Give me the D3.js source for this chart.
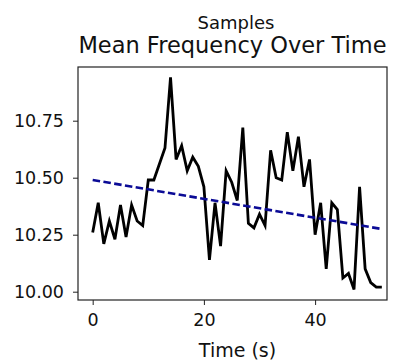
<!DOCTYPE html>
<html>
<head>
<meta charset="utf-8">
<script src="https://cdn.jsdelivr.net/npm/d3@7"></script>
<style>
  body { margin: 0; background: #fff; }
  text { font-family: "DejaVu Sans", sans-serif; fill: #111; }
</style>
</head>
<body>
<div id="app"></div>
<script>
// time in seconds and the mean frequency
const times = d3.range(0, 53);
const meanFreq = [
  10.26, 10.39, 10.21, 10.31, 10.23, 10.38, 10.24, 10.38, 10.31, 10.29,
  10.49, 10.49, 10.56, 10.63, 10.94, 10.58, 10.64, 10.53, 10.59, 10.55,
  10.46, 10.14, 10.39, 10.20, 10.53, 10.48, 10.40, 10.72, 10.30, 10.28,
  10.34, 10.29, 10.62, 10.50, 10.49, 10.70, 10.53, 10.68, 10.46, 10.58,
  10.25, 10.39, 10.10, 10.39, 10.36, 10.06, 10.08, 10.01, 10.46, 10.10,
  10.04, 10.02, 10.02
];
// dashed trend line end points
const trendTimes = [0, 52];
const trendValues = [10.49, 10.275];

const xTicks = [0, 20, 40];
const yTicks = [10.0, 10.25, 10.5, 10.75];

const width = 398;
const height = 361;
const margin = { top: 67, right: 11, bottom: 61, left: 78 };

const svg = d3.select("#app").append("svg").attr("width", width).attr("height", height);

const x = d3.scaleLinear().domain([-2.64, 52.93]).range([margin.left, width - margin.right]);
const y = d3.scaleLinear().domain([9.9636, 10.9855]).range([height - margin.bottom, margin.top]);

// AXES
svg
  .append("g")
  .attr("transform", `translate(0,${height - margin.bottom})`)
  .call(d3.axisBottom(x).tickValues(xTicks).tickFormat(d3.format("d")).tickSize(5).tickPadding(9))
  .call(g => g.select(".domain").remove())
  .call(g => g.selectAll("line").attr("stroke", "#222").attr("stroke-width", 1))
  .call(g => g.selectAll("text").attr("font-size", 17.5).attr("font-family", "DejaVu Sans").attr("fill", "#111"));

svg
  .append("g")
  .attr("transform", `translate(${margin.left},0)`)
  .call(d3.axisLeft(y).tickValues(yTicks).tickFormat(d3.format(".2f")).tickSize(5).tickPadding(9))
  .call(g => g.select(".domain").remove())
  .call(g => g.selectAll("line").attr("stroke", "#222").attr("stroke-width", 1))
  .call(g => g.selectAll("text").attr("font-size", 17.5).attr("font-family", "DejaVu Sans").attr("fill", "#111"));

// DATA LINE
const line = d3.line().x(d => x(d[0])).y(d => y(d[1]));

svg
  .append("path")
  .datum(times.map((t, i) => [t, meanFreq[i]]))
  .attr("d", line)
  .attr("fill", "none")
  .attr("stroke", "#000")
  .attr("stroke-width", 2.8)
  .attr("stroke-linejoin", "miter");

// TREND
svg
  .append("path")
  .datum(trendTimes.map((t, i) => [t, trendValues[i]]))
  .attr("d", line)
  .attr("fill", "none")
  .attr("stroke", "#0b0b96")
  .attr("stroke-width", 2.6)
  .attr("stroke-dasharray", "7.5,3.4");

// FRAME
svg
  .append("rect")
  .attr("x", margin.left)
  .attr("y", margin.top)
  .attr("width", width - margin.left - margin.right)
  .attr("height", height - margin.top - margin.bottom)
  .attr("fill", "none")
  .attr("stroke", "#222")
  .attr("stroke-width", 1.2);

// TITLES
svg.append("text").attr("x", 236).attr("y", 29).attr("text-anchor", "middle").attr("font-size", 18).text("Samples");
svg.append("text").attr("x", 232.5).attr("y", 52.5).attr("text-anchor", "middle").attr("font-size", 22.5).text("Mean Frequency Over Time");
svg.append("text").attr("x", 237.5).attr("y", 357).attr("text-anchor", "middle").attr("font-size", 19).text("Time (s)");
</script>
</body>
</html>
